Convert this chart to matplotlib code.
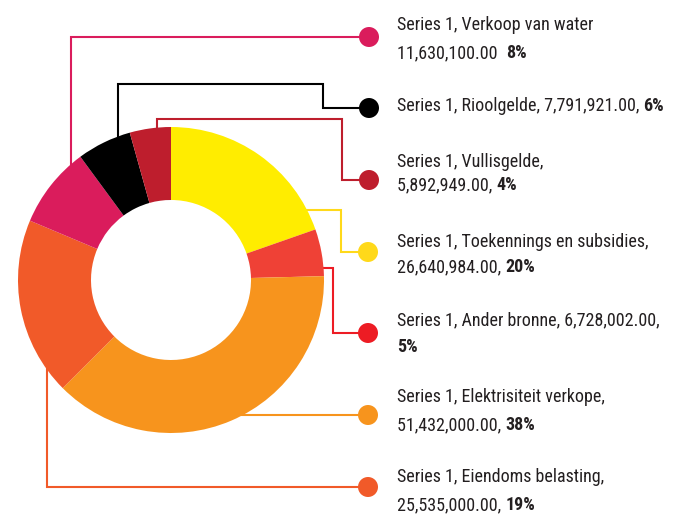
import matplotlib
matplotlib.use('Agg')
import matplotlib.pyplot as plt
from matplotlib.patches import Circle

# ---- data ----
categories = ['Toekennings en subsidies', 'Ander bronne', 'Elektrisiteit verkope',
              'Eiendoms belasting', 'Verkoop van water', 'Rioolgelde', 'Vullisgelde']
values = [26640984.00, 6728002.00, 51432000.00, 25535000.00, 11630100.00, 7791921.00, 5892949.00]
value_labels = ['26,640,984.00', '6,728,002.00', '51,432,000.00', '25,535,000.00',
                '11,630,100.00', '7,791,921.00', '5,892,949.00']
percent_labels = ['20%', '5%', '38%', '19%', '8%', '6%', '4%']
series_name = 'Series 1'

# ---- style ----
slice_colors = ['#FFED00', '#EF4136', '#F7941D', '#F15A29', '#DA1C5C', '#000000', '#BE1E2D']
dot_colors = ['#FFD91A', '#ED1C24', '#F7941D', '#F15A29', '#DA1C5C', '#000000', '#BE1E2D']
text_color = '#231F20'
FONT = ['Roboto Condensed', 'DejaVu Sans']
FS = 13

W, H = 683, 515
fig = plt.figure(figsize=(W / 100, H / 100), dpi=100)
ax = fig.add_axes([0, 0, 1, 1])

def Y(y):
    return H - y

cx, cy, r_out, r_in = 171, 280, 153, 80
ax.pie(values, colors=slice_colors, startangle=90, counterclock=False,
       radius=r_out, center=(cx, Y(cy)),
       wedgeprops=dict(width=r_out - r_in, linewidth=0, zorder=3))
ax.set_xlim(0, W)
ax.set_ylim(0, H)
ax.set_aspect('equal')
ax.axis('off')

layout = [
    dict(path=[(306, 210), (341, 210), (341, 252), (368, 252)], dot=(368, 252),
         lines=[('{s}, {c},', None), ('{v}, ', '{p}')], ly=[242, 267]),
    dict(path=[(322, 268), (333, 268), (333, 333), (368, 333)], dot=(368, 333),
         lines=[('{s}, {c}, {v},', None), ('', '{p}')], ly=[320, 347]),
    dict(path=[(238, 415), (368, 415)], dot=(368, 415),
         lines=[('{s}, {c},', None), ('{v}, ', '{p}')], ly=[397, 425]),
    dict(path=[(47, 368), (47, 487), (368, 487)], dot=(368, 487),
         lines=[('{s}, {c},', None), ('{v}, ', '{p}')], ly=[477, 505]),
    dict(path=[(71, 165), (71, 37), (369, 37)], dot=(369, 37),
         lines=[('{s}, {c}', None), ('{v}  ', '{p}')], ly=[25, 53]),
    dict(path=[(118, 137), (118, 84), (323, 84), (323, 108), (369, 108)], dot=(369, 108),
         lines=[('{s}, {c}, {v}, ', '{p}')], ly=[106]),
    dict(path=[(157, 130), (157, 119), (342, 119), (342, 180), (369, 180)], dot=(369, 180),
         lines=[('{s}, {c},', None), ('{v}, ', '{p}')], ly=[162, 185]),
]

fig.canvas.draw()
renderer = fig.canvas.get_renderer()
tx = 397

for i, lay in enumerate(layout):
    xs = [p[0] for p in lay['path']]
    ys = [Y(p[1]) for p in lay['path']]
    ax.plot(xs, ys, color=dot_colors[i], lw=1.5, zorder=2, solid_joinstyle='miter')
    ax.add_patch(Circle((lay['dot'][0], Y(lay['dot'][1])), 10, color=dot_colors[i], zorder=4, lw=0))
    fmt = dict(s=series_name, c=categories[i], v=value_labels[i], p=percent_labels[i])
    for (normal, bold), yy in zip(lay['lines'], lay['ly']):
        x = tx
        if normal:
            t = ax.text(x, Y(yy), normal.format(**fmt), family=FONT, fontsize=FS,
                        color=text_color, va='center', ha='left')
            bb = t.get_window_extent(renderer=renderer)
            x = ax.transData.inverted().transform((bb.x1, bb.y0))[0]
        if bold:
            ax.text(x, Y(yy), bold.format(**fmt), family=FONT, fontsize=FS,
                    fontweight='bold', color=text_color, va='center', ha='left')

fig.savefig('out.png', dpi=100)
